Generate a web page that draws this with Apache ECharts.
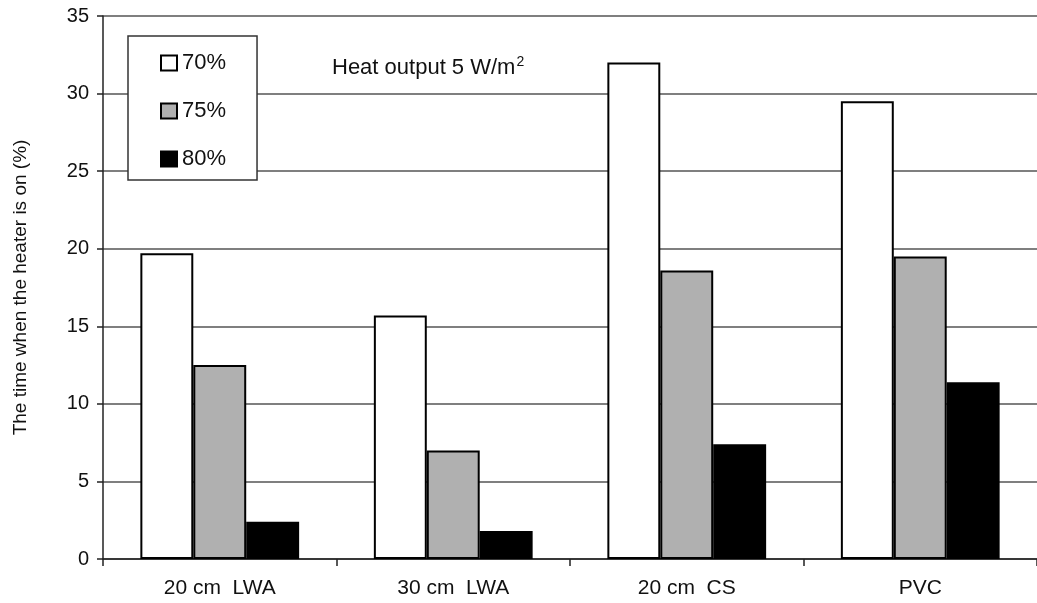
<!DOCTYPE html>
<html>
<head>
<meta charset="utf-8">
<script src="https://cdn.jsdelivr.net/npm/echarts@6/dist/echarts.min.js"></script>
<style>html,body{margin:0;padding:0;background:#fff}#c{width:1037px;height:603px}</style>
</head>
<body>
<div id="c"></div>
<script>
var categories = ['20 cm  LWA', '30 cm  LWA', '20 cm  CS', 'PVC'];
var seriesNames = ['70%', '75%', '80%'];
var values70 = [19.7, 15.7, 32.0, 29.5];
var values75 = [12.5, 7.0, 18.6, 19.5];
var values80 = [2.4, 1.8, 7.4, 11.4];
var yTicks = [0, 5, 10, 15, 20, 25, 30, 35];

var FONT = 'Liberation Sans, Arial, sans-serif';
var fills = ['#ffffff', '#b0b0b0', '#000000'];
var data = [values70, values75, values80];

var chart = echarts.init(document.getElementById('c'));
chart.setOption({
  animation: false,
  backgroundColor: '#fff',
  title: {
    text: 'Heat output 5 W/m{sup|2}',
    left: 332, top: 55, padding: 0,
    textStyle: {
      fontFamily: FONT, fontSize: 22, fontWeight: 'normal', color: '#111',
      rich: { sup: { fontFamily: FONT, fontSize: 14, color: '#111', verticalAlign: 'top', padding: [0, 0, 12, 1] } }
    }
  },
  legend: {
    orient: 'vertical',
    left: 128, top: 36,
    backgroundColor: '#fff',
    borderColor: '#333', borderWidth: 1.5,
    padding: [16, 31, 10, 32],
    itemWidth: 16, itemHeight: 15, itemGap: 26,
    icon: 'rect',
    textStyle: { fontFamily: FONT, fontSize: 22, color: '#111' },
    data: seriesNames
  },
  grid: { left: 103, right: -2, top: 16, bottom: 44, containLabel: false },
  xAxis: {
    type: 'category',
    data: categories,
    axisLine: { show: true, lineStyle: { color: '#222', width: 1.5 } },
    axisTick: { show: true, alignWithLabel: false, length: 7, lineStyle: { color: '#222', width: 1.5 } },
    axisLabel: { fontFamily: FONT, fontSize: 21, color: '#111', margin: 19 },
    splitLine: { show: false }
  },
  yAxis: {
    type: 'value',
    min: 0, max: 35, interval: 5,
    name: 'The time when the heater is on (%)',
    nameLocation: 'middle',
    nameGap: 73,
    nameTextStyle: { fontFamily: FONT, fontSize: 19, color: '#111' },
    axisLine: { show: true, lineStyle: { color: '#222', width: 1.5 } },
    axisTick: { show: true, inside: false, length: 6, lineStyle: { color: '#222', width: 1.5 } },
    axisLabel: { fontFamily: FONT, fontSize: 20, color: '#111', margin: 14,
      formatter: function (v) { return yTicks.indexOf(v) >= 0 ? String(v) : ''; } },
    splitLine: { show: true, lineStyle: { color: '#555', width: 1.5 } }
  },
  series: seriesNames.map(function (n, i) {
    return {
      name: n,
      type: 'bar',
      data: data[i],
      barGap: '0%',
      barCategoryGap: '32%',
      itemStyle: { color: fills[i], borderColor: '#000', borderWidth: 2 }
    };
  })
});
</script>
</body>
</html>
